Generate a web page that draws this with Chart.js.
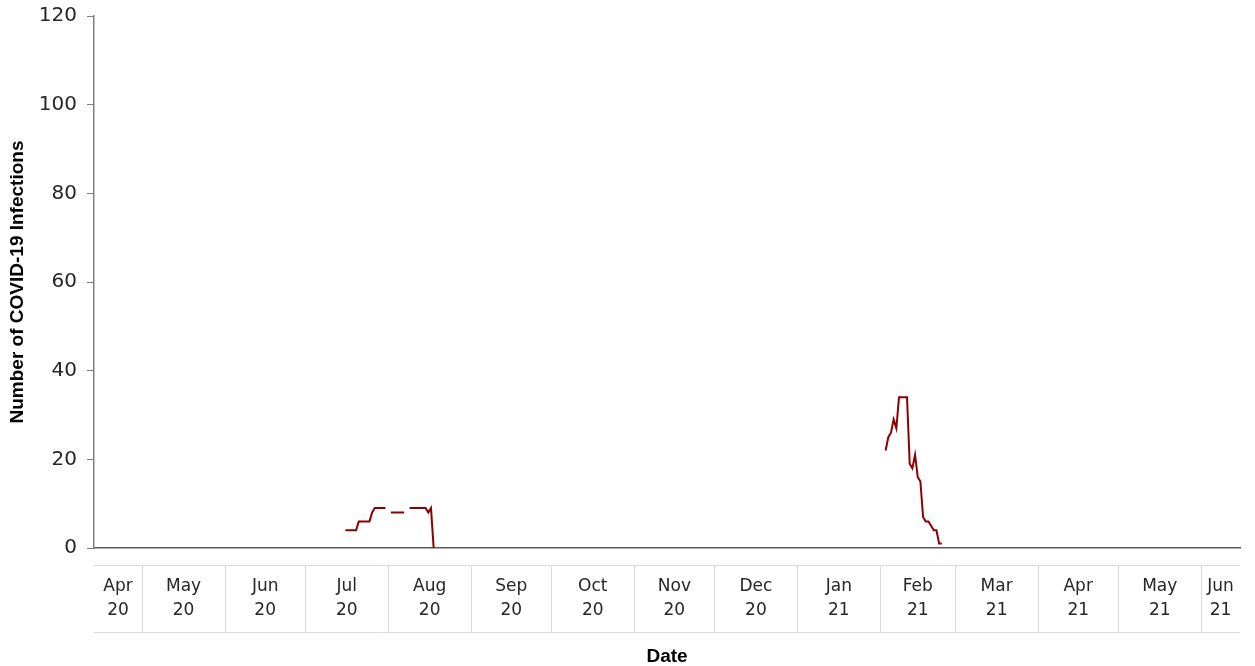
<!DOCTYPE html>
<html>
<head>
<meta charset="utf-8">
<script src="https://cdn.jsdelivr.net/npm/chart.js@4.4.1/dist/chart.umd.min.js"></script>
<style>
  html, body { margin: 0; padding: 0; background: #fff; }
  #wrap { width: 1255px; height: 666px; }
</style>
</head>
<body>
<div id="wrap"><canvas id="covidChart"></canvas></div>
<script>
// axis runs from 13 Apr 2020 to mid Jun 2021, one unit per day
const startDate = '2020-04-13';
const endDay = 428.5;

const dates = [
  '2020-07-16', '2020-07-17', '2020-07-18', '2020-07-19', '2020-07-20',
  '2020-07-21', '2020-07-22', '2020-07-23', '2020-07-24', '2020-07-25',
  '2020-07-26', '2020-07-27', '2020-07-28', '2020-07-29', '2020-07-30', '2020-07-31',
  '2020-08-01',
  '2020-08-02', '2020-08-03', '2020-08-04', '2020-08-05', '2020-08-06', '2020-08-07',
  '2020-08-08',
  '2020-08-09', '2020-08-10', '2020-08-11', '2020-08-12', '2020-08-13', '2020-08-14',
  '2020-08-15', '2020-08-16', '2020-08-17', '2020-08-18',
  '2020-08-19',
  '2021-02-03', '2021-02-04', '2021-02-05', '2021-02-06', '2021-02-07', '2021-02-08',
  '2021-02-09', '2021-02-10', '2021-02-11', '2021-02-12', '2021-02-13', '2021-02-14',
  '2021-02-15', '2021-02-16', '2021-02-17', '2021-02-18', '2021-02-19', '2021-02-20',
  '2021-02-21', '2021-02-22', '2021-02-23', '2021-02-24'
];
const infections = [
  4, 4, 4, 4, 4,
  6, 6, 6, 6, 6,
  8, 9, 9, 9, 9, 9,
  null,
  8, 8, 8, 8, 8, 8,
  null,
  9, 9, 9, 9, 9, 9,
  9, 8, 9, 0,
  null,
  22, 25, 26, 29, 27, 34,
  34, 34, 34, 19, 18, 21,
  16, 15, 7, 6, 6, 5,
  4, 4, 1, 1
];

const monthStarts = [
  '2020-05-01', '2020-06-01', '2020-07-01', '2020-08-01', '2020-09-01', '2020-10-01',
  '2020-11-01', '2020-12-01', '2021-01-01', '2021-02-01', '2021-03-01', '2021-04-01',
  '2021-05-01', '2021-06-01'
];
const monthLabels = [
  ['Apr', '20'], ['May', '20'], ['Jun', '20'], ['Jul', '20'], ['Aug', '20'],
  ['Sep', '20'], ['Oct', '20'], ['Nov', '20'], ['Dec', '20'], ['Jan', '21'],
  ['Feb', '21'], ['Mar', '21'], ['Apr', '21'], ['May', '21'], ['Jun', '21']
];

function dayIndex(s) {
  return Math.round((Date.parse(s) - Date.parse(startDate)) / 86400000);
}

const boundaries = monthStarts.map(dayIndex);
const edges = [0, ...boundaries, endDay];
const labelCentres = monthLabels.map((l, i) => (edges[i] + edges[i + 1]) / 2);

// light boxes under the x axis around each month label
const monthBoxes = {
  id: 'monthBoxes',
  afterDraw(chart) {
    const { ctx, chartArea, scales } = chart;
    const top = chartArea.bottom + 17;
    const bottom = chartArea.bottom + 84;
    ctx.save();
    ctx.strokeStyle = '#d9d9d9';
    ctx.lineWidth = 1;
    ctx.beginPath();
    ctx.moveTo(chartArea.left, top + 0.5);
    ctx.lineTo(chartArea.right, top + 0.5);
    ctx.moveTo(chartArea.left, bottom + 0.5);
    ctx.lineTo(chartArea.right, bottom + 0.5);
    boundaries.forEach(b => {
      const x = Math.round(scales.x.getPixelForValue(b)) + 0.5;
      ctx.moveTo(x, top);
      ctx.lineTo(x, bottom);
    });
    ctx.stroke();
    ctx.restore();
  }
};

const ctx = document.getElementById('covidChart').getContext('2d');

new Chart(ctx, {
  type: 'line',
  data: {
    datasets: [{
      label: 'COVID-19 Infections',
      data: dates.map((d, i) => ({ x: dayIndex(d), y: infections[i] })),
      borderColor: '#8b0000',
      borderWidth: 2,
      pointRadius: 0,
      tension: 0,
      spanGaps: false
    }]
  },
  options: {
    responsive: true,
    maintainAspectRatio: false,
    animation: false,
    layout: { padding: { top: 16, right: 15, left: 0, bottom: 0 } },
    plugins: {
      legend: { display: false },
      tooltip: { enabled: false }
    },
    scales: {
      x: {
        type: 'linear',
        min: 0,
        max: endDay,
        afterBuildTicks: scale => {
          scale.ticks = labelCentres.map(v => ({ value: v }));
        },
        afterFit: scale => {
          scale.height = 118;
          scale.paddingLeft = 0;
          scale.paddingRight = 0;
        },
        ticks: {
          autoSkip: false,
          maxRotation: 0,
          padding: 27,
          color: '#262626',
          font: { family: 'DejaVu Sans', size: 17, lineHeight: 24 / 17 },
          callback: (value, index) => monthLabels[index]
        },
        grid: { display: false, drawTicks: false },
        border: { display: true, color: '#595959', width: 1.5 },
        title: {
          display: true,
          text: 'Date',
          color: '#000',
          padding: { top: 0, bottom: 0 },
          font: { family: 'Liberation Sans', size: 19, weight: 'bold', lineHeight: 1 }
        }
      },
      y: {
        min: 0,
        max: 120,
        afterFit: scale => {
          scale.width = 94;
          scale.paddingTop = 0;
          scale.paddingBottom = 0;
        },
        ticks: {
          stepSize: 20,
          padding: 10,
          color: '#262626',
          font: { family: 'DejaVu Sans', size: 20 }
        },
        grid: {
          display: true,
          drawOnChartArea: false,
          drawTicks: true,
          tickLength: 7,
          color: '#7f7f7f'
        },
        border: { display: true, color: '#7f7f7f', width: 1.5 },
        title: {
          display: true,
          text: 'Number of COVID-19 Infections',
          color: '#000',
          padding: { top: 8, bottom: 0 },
          font: { family: 'Liberation Sans', size: 19, weight: 'bold', lineHeight: 1 }
        }
      }
    }
  },
  plugins: [monthBoxes]
});
</script>
</body>
</html>
